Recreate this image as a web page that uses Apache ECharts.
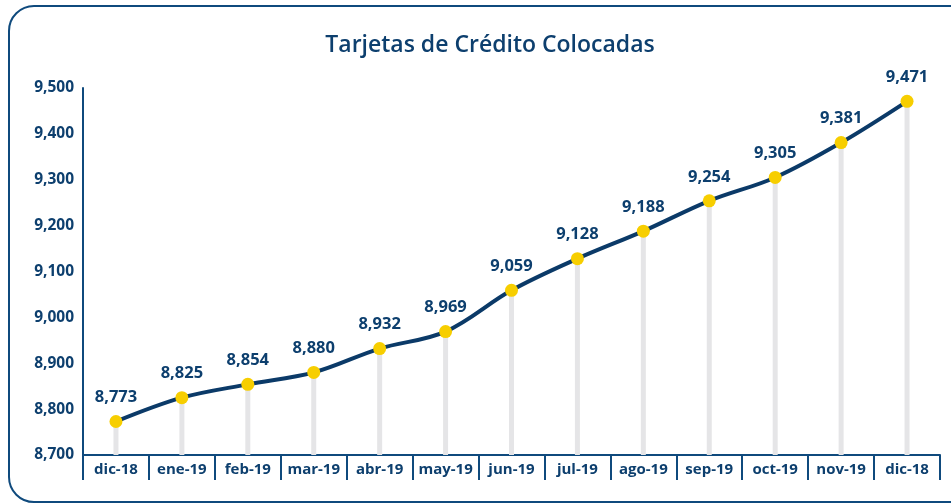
<!DOCTYPE html>
<html>
<head>
<meta charset="utf-8">
<script src="https://cdn.jsdelivr.net/npm/echarts@6/dist/echarts.min.js"></script>
<style>
  html, body { margin: 0; padding: 0; background: #fff; overflow: hidden; }
  #frame {
    position: absolute; left: 8px; top: 5px; width: 1000px; height: 498px;
    border: 2px solid #0f4a7d; border-radius: 26px; box-sizing: border-box;
  }
  #chart { position: absolute; left: 0; top: 0; width: 951px; height: 504px; }
</style>
</head>
<body>
<div id="frame"></div>
<div id="chart"></div>
<script>
const months = ["dic-18", "ene-19", "feb-19", "mar-19", "abr-19", "may-19", "jun-19",
  "jul-19", "ago-19", "sep-19", "oct-19", "nov-19", "dic-18"];
const cards = [8773, 8825, 8854, 8880, 8932, 8969, 9059, 9128, 9188, 9254, 9305, 9381, 9471];

const NAVY = "#0d3f6e";
const FONT = "'Open Sans', 'Noto Sans', sans-serif";

const myChart = echarts.init(document.getElementById("chart"), null, { renderer: "canvas" });

const option = {
  animation: false,
  title: {
    text: "Tarjetas de Crédito Colocadas",
    left: 485,
    top: 29,
    textAlign: "center",
    textStyle: { color: NAVY, fontSize: 23, fontWeight: 600, fontFamily: FONT },
  },
  grid: { left: 83, right: 11, top: 88, bottom: 49 },
  xAxis: {
    type: "category",
    data: months,
    boundaryGap: true,
    axisLine: { lineStyle: { color: "#0f4a7d", width: 2 } },
    axisTick: { show: true, interval: 0, length: 25, alignWithLabel: false, lineStyle: { color: "#0f4a7d", width: 2 } },
    axisLabel: { interval: 0, color: NAVY, fontSize: 15, fontWeight: "bold", fontFamily: FONT, margin: 7 },
  },
  yAxis: {
    type: "value",
    min: 8700,
    max: 9500,
    interval: 100,
    splitLine: { show: false },
    axisLine: { show: true, lineStyle: { color: "#0f4a7d", width: 2 } },
    axisTick: { show: false },
    axisLabel: {
      color: NAVY, fontSize: 15.5, fontWeight: "bold", fontFamily: FONT, margin: 9,
      formatter: (v) => v.toLocaleString("en-US"),
    },
  },
  series: [
    {
      type: "bar",
      data: cards,
      barWidth: 5,
      itemStyle: { color: "#e5e5e7" },
      silent: true,
      z: 1,
    },
    {
      type: "line",
      data: cards,
      smooth: 0.35,
      symbol: "circle",
      symbolSize: 13,
      lineStyle: { color: "#0b3a68", width: 4 },
      itemStyle: { color: "#f7ce00", borderWidth: 0 },
      label: {
        show: true,
        position: "top",
        distance: 9,
        color: NAVY,
        fontSize: 16.5,
        fontWeight: "bold",
        fontFamily: FONT,
        formatter: ({ value }) => value.toLocaleString("en-US"),
      },
      z: 3,
    },
  ],
};

myChart.setOption(option);
</script>
</body>
</html>
